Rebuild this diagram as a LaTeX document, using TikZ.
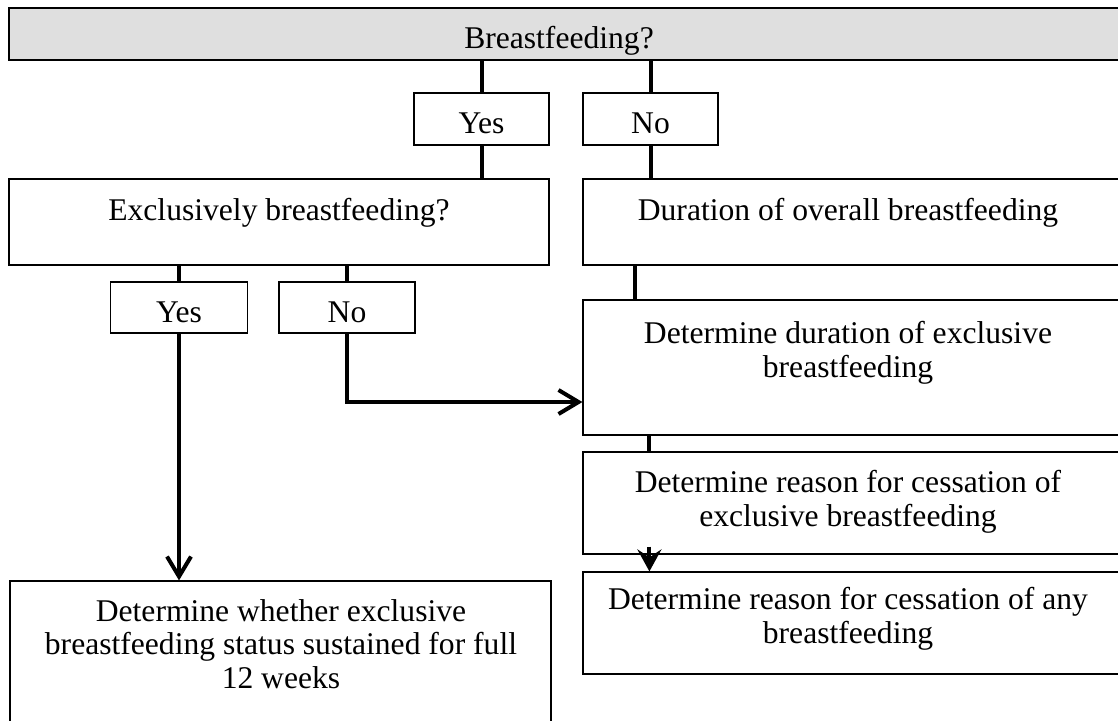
\documentclass[tikz,border=0pt]{standalone}
\usepackage{fontspec}
\setmainfont{Liberation Serif}
\usetikzlibrary{arrows.meta,positioning,calc}
\definecolor{bargray}{RGB}{223,223,223}

\begin{document}
\begin{tikzpicture}[x=0.5pt, y=-0.5pt,
  box/.style={draw, line width=0.6pt, inner sep=0pt},
  lbl/.style={font=\fontsize{15.8}{16.75}\selectfont, align=center, inner sep=0pt, anchor=north},
  link/.style={line width=2pt},
  barb/.style={link, -{Straight Barb[length=10pt,width=12pt]}},
  stealth/.style={link, -{Stealth[length=11pt,width=12pt,inset=4pt]}}]
  \clip (0,0) rectangle (1118,720);
  % top question
  \node[box, fill=bargray, line width=1.2pt, minimum width=580pt, minimum height=26pt] (bar) at (589,34) {};
  \node[lbl] (bartxt) at (559,26) {Breastfeeding?};
  % first answers
  \node[box, minimum width=67.5pt, minimum height=26pt] (yes1) at (481.5,119) {};
  \node[lbl] (yes1txt) at (481.5,112.5) {Yes};
  \node[box, minimum width=67.5pt, minimum height=26pt] (no1) at (650.5,119) {};
  \node[lbl] (no1txt) at (650.5,112.5) {No};
  % left column
  \node[box, minimum width=270pt, minimum height=43pt] (excl) at (279,222) {};
  \node[lbl] (excltxt) at (279,198) {Exclusively breastfeeding?};
  \node[box, minimum width=68.5pt, minimum height=25.5pt] (yes2) at (179,307.5) {};
  \node[lbl] (yes2txt) at (179,301) {Yes};
  \node[box, minimum width=68pt, minimum height=25.5pt] (no2) at (347,307.5) {};
  \node[lbl] (no2txt) at (347,301) {No};
  \node[box, minimum width=270.5pt, minimum height=89.5pt] (whether) at (280.5,670.5) {};
  \node[lbl] (whethertxt) at (281,599) {Determine whether exclusive\\breastfeeding status sustained for full\\12 weeks};
  % right column
  \node[box, minimum width=298.5pt, minimum height=43pt] (dur) at (881.5,222) {};
  \node[lbl] (durtxt) at (848,198) {Duration of overall breastfeeding};
  \node[box, minimum width=298.5pt, minimum height=67.5pt] (det1) at (881.5,367.5) {};
  \node[lbl] (det1txt) at (848,321) {Determine duration of exclusive\\breastfeeding};
  \node[box, minimum width=298.5pt, minimum height=51pt] (det2) at (881.5,503) {};
  \node[lbl] (det2txt) at (848,470) {Determine reason for cessation of\\exclusive breastfeeding};
  \node[box, minimum width=298.5pt, minimum height=51pt] (det3) at (881.5,623) {};
  \node[lbl] (det3txt) at (848,587) {Determine reason for cessation of any\\breastfeeding};
  % connectors
  \draw[link] (bar.south -| yes1) -- (yes1.north);
  \draw[link] (bar.south -| no1) -- (no1.north);
  \draw[link] (yes1.south) -- (yes1.south |- excl.north);
  \draw[link] (no1.south) -- (no1.south |- dur.north);
  \draw[link] (excl.south -| yes2) -- (yes2.north);
  \draw[link] (excl.south -| no2) -- (no2.north);
  \draw[barb] (yes2.south) -- (yes2.south |- whether.north);
  \draw[barb] (no2.south) |- ([yshift=-17.25pt]det1.west);
  \draw[link] ([xshift=26.5pt]dur.south west) -- ([xshift=26.5pt]det1.north west);
  \draw[link] ([xshift=33.5pt]det1.south west) -- ([xshift=33.5pt]det2.north west);
  \draw[stealth] ([xshift=33.5pt,yshift=4pt]det2.south west) -- ([xshift=33.5pt]det3.north west);
\end{tikzpicture}
\end{document}
